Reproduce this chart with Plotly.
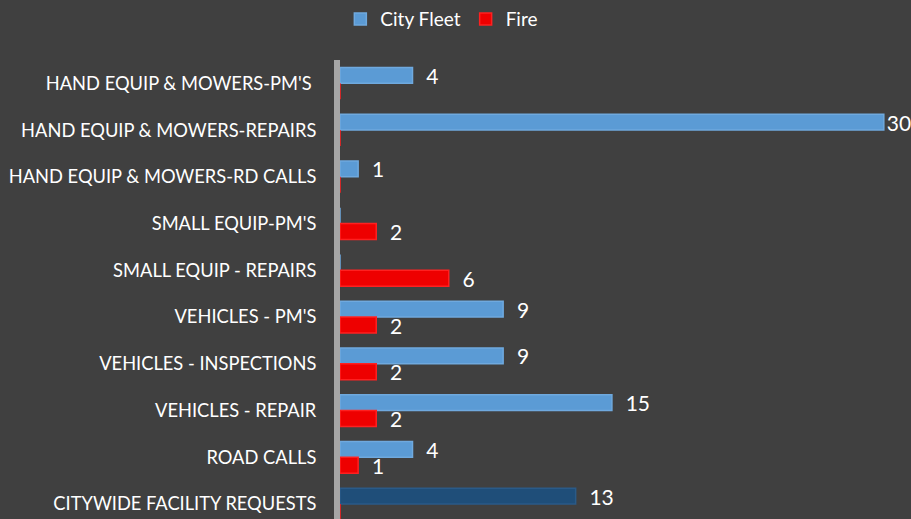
import plotly.graph_objects as go

# categories top -> bottom, as shown
categories = [
    "HAND EQUIP & MOWERS-PM'S\u00a0",
    "HAND EQUIP & MOWERS-REPAIRS",
    "HAND EQUIP & MOWERS-RD CALLS",
    "SMALL EQUIP-PM'S",
    "SMALL EQUIP - REPAIRS",
    "VEHICLES - PM'S",
    "VEHICLES - INSPECTIONS",
    "VEHICLES - REPAIR",
    "ROAD CALLS",
    "CITYWIDE FACILITY REQUESTS",
]
city_fleet = [4, 30, 1, 0, 0, 9, 9, 15, 4, 13]
fire = [0, 0, 0, 2, 6, 2, 2, 2, 1, 0]

BG = "#404040"
BLUE = "#5b9bd5"
DARK_BLUE = "#1f4e79"
RED = "#ee0000"
FONT = "Lato"
X_MAX = 31.5


def labels(vals):
    # the longest bar runs to the edge, so its label sits tight against it
    out = []
    for v in vals:
        if v == 0:
            out.append("")
        elif v >= 28:
            out.append(str(v))
        else:
            out.append(f"  {v}")
    return out


fleet_colors = [BLUE] * (len(categories) - 1) + [DARK_BLUE]
fleet_lines = ["#6fa9de"] * (len(categories) - 1) + ["#2a5a88"]

fig = go.Figure()
fig.add_trace(go.Bar(
    name="City Fleet",
    y=categories,
    x=city_fleet,
    orientation="h",
    marker=dict(color=fleet_colors, line=dict(color=fleet_lines, width=1.5)),
    text=labels(city_fleet),
    textposition="outside",
    textfont=dict(color="white", size=21, family=FONT),
    cliponaxis=False,
    constraintext="none",
))
fig.add_trace(go.Bar(
    name="Fire",
    y=categories,
    x=fire,
    orientation="h",
    marker=dict(color=RED, line=dict(color="#ff2020", width=1.5)),
    text=labels(fire),
    textposition="outside",
    textfont=dict(color="white", size=21, family=FONT),
    cliponaxis=False,
    constraintext="none",
))

fig.update_layout(
    width=911,
    height=519,
    paper_bgcolor=BG,
    plot_bgcolor=BG,
    barmode="group",
    bargap=0.32,
    bargroupgap=0.0,
    margin=dict(l=340, r=0, t=60, b=0),
    font=dict(family=FONT, color="white", size=16),
    legend=dict(
        orientation="h",
        xref="container", yref="container",
        x=0.485, y=0.963, xanchor="center", yanchor="middle",
        font=dict(size=19, color="white"),
        bgcolor="rgba(0,0,0,0)",
    ),
    xaxis=dict(
        range=[0, X_MAX],
        showgrid=False, zeroline=False, showticklabels=False, showline=False,
    ),
    yaxis=dict(
        type="category",
        range=[9.32, -0.5],
        showgrid=False, zeroline=False,
        showline=True, linecolor="#a6a6a6", linewidth=6,
        layer="below traces",
        ticks="", ticklabelstandoff=14,
        tickfont=dict(size=18.3, color="white", family=FONT),
    ),
)

fig.write_html(
    "out.html",
    config={"displayModeBar": False},
    post_script="document.body.style.margin='0';",
)
